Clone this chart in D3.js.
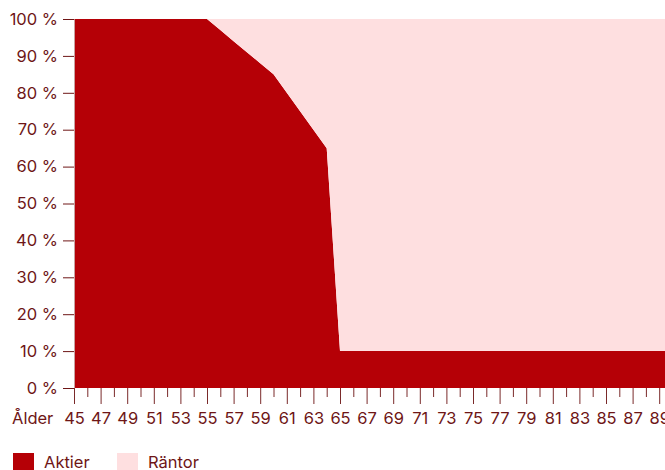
<!DOCTYPE html>
<html><head><meta charset="utf-8">
<script src="https://cdn.jsdelivr.net/npm/d3@7"></script>
<style>
body{margin:0;background:#fff;overflow:hidden}
text{font-family:Inter, "Open Sans", sans-serif;fill:#6e1616}
</style></head>
<body>
<svg id="c" width="665" height="470"></svg>
<script>
const ages = d3.range(45, 91);
const aktier = [100,100,100,100,100,100,100,100,100,100,100,97,94,91,88,85,80,75,70,65,
  10,10,10,10,10,10,10,10,10,10,10,10,10,10,10,10,10,10,10,10,10,10,10,10,10,10];
const rantor = aktier.map(v => 100 - v);
const seriesNames = ["Aktier","Räntor"];
const colors = ["#b50006","#fedfe0"];
const yTicks = [0,10,20,30,40,50,60,70,80,90,100];

const svg = d3.select("#c");
const x = d3.scaleLinear().domain([45,90]).range([74,672.5]);
const y = d3.scaleLinear().domain([0,100]).range([388,19]);

const rows = ages.map((a,i)=>({age:a, Aktier:aktier[i], "Räntor":rantor[i]}));
const stack = d3.stack().keys(seriesNames)(rows);
const area = d3.area().x(d=>x(d.data.age)).y0(d=>y(d[0])).y1(d=>y(d[1]));
svg.append("g").selectAll("path").data(stack).join("path")
  .attr("d",area).attr("fill",(d,i)=>colors[i]);

// y axis
const ya = svg.append("g").attr("transform","translate(74,0)")
  .call(d3.axisLeft(y).tickValues(yTicks).tickSize(11).tickPadding(5).tickFormat(d=>d+" %"));
ya.select(".domain").attr("stroke","#c9a0a0").attr("stroke-width",1);
ya.selectAll(".tick line").attr("stroke","#6e1616");
ya.selectAll("text").attr("font-size",16.5).style("font-family","Inter, sans-serif").attr("fill","#6e1616");

// x axis
const xa = svg.append("g").attr("transform","translate(0,388)")
  .call(d3.axisBottom(x).tickValues(ages).tickSize(0).tickFormat(d=> d%2===1 ? d : ""));
xa.select(".domain").remove();
xa.selectAll(".tick line").attr("y2",d=>d%2===1?16:9).attr("stroke","#7a2a2a");
xa.selectAll("text").attr("y",36).attr("dy",0).attr("font-size",16.5).attr("fill","#6e1616");

svg.append("text").attr("x",12).attr("y",424).attr("font-size",16.5).text("Ålder");

// legend
const lg = svg.append("g");
const lx = [13,117];
seriesNames.forEach((n,i)=>{
  lg.append("rect").attr("x",lx[i]).attr("y",453).attr("width",21).attr("height",21).attr("fill",colors[i]);
  lg.append("text").attr("x",lx[i]+31).attr("y",468).attr("font-size",16.5).text(n);
});
</script>
</body></html>
